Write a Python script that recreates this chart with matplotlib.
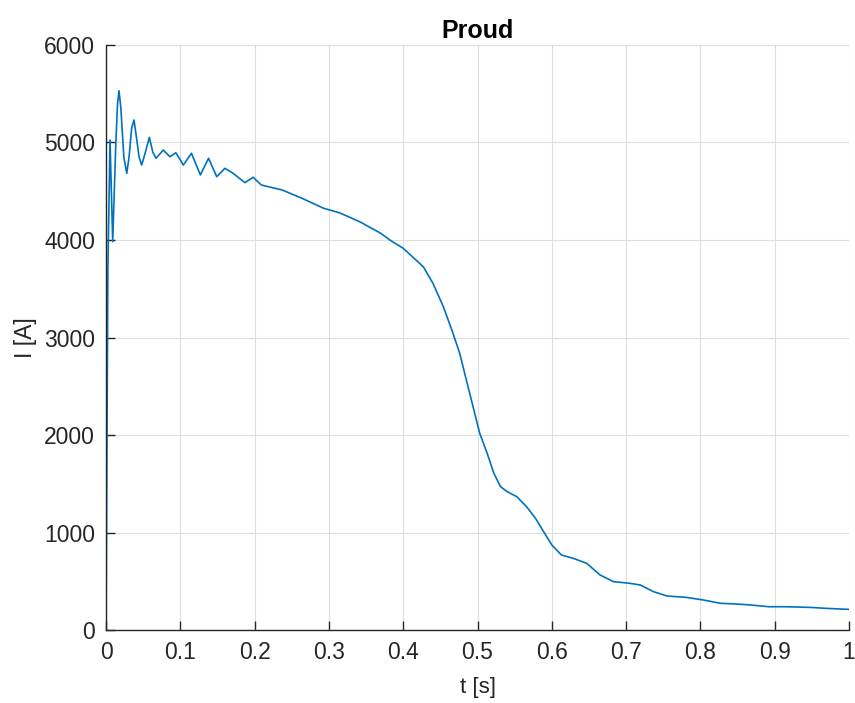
import matplotlib
matplotlib.use("Agg")
from matplotlib import pyplot as plt

# current trace (t in s, I in A)
t = [0.0, 0.0012, 0.0025, 0.0054, 0.0090, 0.0130, 0.0155, 0.0175, 0.0200,
     0.0240, 0.0279, 0.0310, 0.0345, 0.0377, 0.0410, 0.0445, 0.0480,
     0.0530, 0.0583, 0.0630, 0.0673, 0.0770,
     0.0860, 0.0940, 0.1040, 0.1150, 0.1270, 0.1380, 0.1490, 0.1600,
     0.1710, 0.1870, 0.1980, 0.2090, 0.2370, 0.2640, 0.2930, 0.3150,
     0.3420, 0.3690, 0.3840, 0.4000, 0.4270, 0.4400, 0.4540, 0.4670,
     0.4760, 0.4850, 0.4940, 0.5030, 0.5130, 0.5220, 0.5310, 0.5400,
     0.5530, 0.5660, 0.5780, 0.5890, 0.6000, 0.6130, 0.6290, 0.6470,
     0.6650, 0.6830, 0.7050, 0.7190, 0.7370, 0.7550, 0.7810, 0.8040,
     0.8270, 0.8480, 0.8690, 0.8920, 0.9150, 0.9480, 0.9700, 0.9990]
current = [0, 1800, 3700, 5025, 3983, 4950, 5400, 5531, 5350,
           4850, 4684, 4850, 5150, 5231, 5050, 4850, 4769,
           4900, 5053, 4900, 4838, 4923,
           4854, 4895, 4769, 4889, 4667, 4838, 4649, 4735,
           4684, 4588, 4643, 4564, 4513, 4427, 4325, 4277,
           4185, 4072, 3990, 3915, 3726, 3556, 3316, 3043,
           2838, 2564, 2290, 2017, 1812, 1607, 1470, 1419,
           1367, 1265, 1146, 1008, 872, 769, 735, 684,
           564, 496, 479, 462, 393, 349, 335, 308,
           274, 267, 256, 239, 239, 232, 222, 212]

xticks = [0, 0.1, 0.2, 0.3, 0.4, 0.5, 0.6, 0.7, 0.8, 0.9, 1]
xlabels = ["0", "0.1", "0.2", "0.3", "0.4", "0.5", "0.6", "0.7", "0.8", "0.9", "1"]
yticks = [0, 1000, 2000, 3000, 4000, 5000, 6000]

plt.rcParams['font.family'] = ['Liberation Sans', 'DejaVu Sans']

fig = plt.figure(figsize=(8.55, 7.03), dpi=100)
ax = fig.add_axes([0.124, 0.1038, 0.869, 0.8322])

ax.plot(t, current, color='#0072BD', linewidth=1.2)

ax.set_xlim(0, 1)
ax.set_ylim(0, 6000)
ax.set_xticks(xticks)
ax.set_xticklabels(xlabels)
ax.set_yticks(yticks)
ax.grid(True, color='#dedede', linewidth=0.8)
ax.set_axisbelow(True)

for side in ['top', 'right']:
    ax.spines[side].set_visible(False)
for side in ['left', 'bottom']:
    ax.spines[side].set_color('#262626')
    ax.spines[side].set_linewidth(1.0)
ax.tick_params(direction='in', length=6.5, width=1.0, colors='#262626',
               labelsize=16.5, pad=8)

ax.set_xlabel("t [s]", fontsize=16, color='#262626', labelpad=9)
ax.set_ylabel("I [A]", fontsize=16.5, color='#262626', labelpad=5)
ax.set_title("Proud", fontsize=18, fontweight='bold', color='black', pad=5)

plt.savefig("out.png", dpi=100)
